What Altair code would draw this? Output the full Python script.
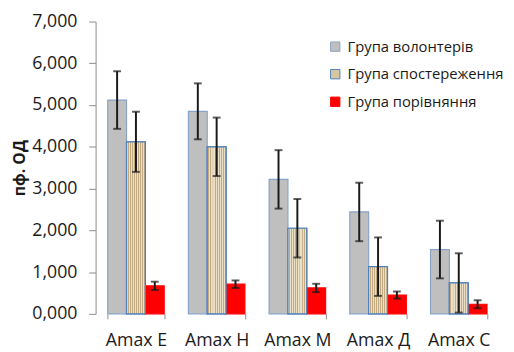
import altair as alt
import pandas as pd

categories = ["Amax E", "Amax H", "Amax M", "Amax Д", "Amax C"]
series = ["Група волонтерів", "Група спостереження", "Група порівняння"]
vol = [5.12, 4.85, 3.22, 2.44, 1.54]
vol_err = [0.69, 0.67, 0.70, 0.70, 0.69]
obs = [4.12, 4.00, 2.05, 1.13, 0.74]
obs_err = [0.72, 0.70, 0.70, 0.70, 0.71]
cmp_ = [0.67, 0.71, 0.62, 0.45, 0.23]
cmp_err = [0.10, 0.09, 0.10, 0.085, 0.095]

rows = []
for s, vals, errs in zip(series, [vol, obs, cmp_], [vol_err, obs_err, cmp_err]):
    for c, v, e in zip(categories, vals, errs):
        rows.append({"cat": c, "series": s, "value": v, "lo": v - e, "hi": v + e})
df = pd.DataFrame(rows)

FONT = "Open Sans"
TXT = "#1a1a1a"

x = alt.X("cat:N", sort=categories, title=None,
          scale=alt.Scale(paddingInner=0.3, paddingOuter=0.15),
          axis=alt.Axis(labelAngle=0, domain=False, tickBand="extent", tickSize=5,
                        tickColor="#8c8c8c", labelPadding=13, labelFontSize=18,
                        labelColor=TXT, labelFont=FONT))
xo = alt.XOffset("series:N", sort=series, scale=alt.Scale(domain=series))
yscale = alt.Scale(domain=[0, 7], nice=False)

leg = dict(orient="none", legendX=236, legendY=18, symbolType="square", symbolSize=90,
           rowPadding=12, labelFontSize=15, labelFont=FONT, labelColor=TXT,
           labelOffset=5, symbolStrokeWidth=1, labelLimit=0)

bars = alt.Chart(df).mark_bar(strokeWidth=1.2).encode(
    x=x, xOffset=xo,
    y=alt.Y("value:Q", scale=yscale, title="пф. ОД",
            axis=alt.Axis(values=[0, 1, 2, 3, 4, 5, 6, 7], grid=False,
                          labelExpr="replace(format(datum.value, '.3f'), '.', ',')",
                          tickSize=7, tickColor="#8c8c8c", domainColor="#8c8c8c",
                          labelPadding=12, labelFontSize=18, labelColor=TXT,
                          labelFont=FONT, titleFont=FONT, titleFontSize=16,
                          titleFontWeight="bold", titleColor=TXT, titlePadding=4)),
    color=alt.Color("series:N", sort=series, title=None,
                    scale=alt.Scale(domain=series, range=["#bfbfbf", "#d6c7a2", "#ff0000"]),
                    legend=alt.Legend(**leg)),
    stroke=alt.Stroke("series:N", sort=series, title=None,
                      scale=alt.Scale(domain=series, range=["#8aa4c8", "#4f81bd", "#ff0000"]),
                      legend=alt.Legend(**leg)),
)

stops = []
n = 9
for i in range(n):
    a = i / n
    b = (i + 0.55) / n
    stops.append(alt.GradientStop(offset=a, color="#ebe0c6"))
    stops.append(alt.GradientStop(offset=b - 0.005, color="#ebe0c6"))
    stops.append(alt.GradientStop(offset=b, color="#c2aa82"))
    stops.append(alt.GradientStop(offset=(i + 1) / n - 0.005, color="#c2aa82"))

texture = alt.Chart(df).transform_filter(
    alt.datum.series == series[1]
).mark_bar(
    fill=alt.LinearGradient(gradient="linear", x1=0, x2=1, y1=0, y2=0, stops=stops),
    stroke="#4f81bd", strokeWidth=1.2
).encode(x=x, xOffset=xo, y=alt.Y("value:Q", scale=yscale))

rules = alt.Chart(df).mark_rule(color=TXT, strokeWidth=2).encode(
    x=x, xOffset=xo, y=alt.Y("lo:Q", scale=yscale), y2="hi:Q")
cap_lo = alt.Chart(df).mark_tick(color=TXT, thickness=2, size=8, orient="horizontal").encode(
    x=x, xOffset=xo, y=alt.Y("lo:Q", scale=yscale))
cap_hi = alt.Chart(df).mark_tick(color=TXT, thickness=2, size=8, orient="horizontal").encode(
    x=x, xOffset=xo, y=alt.Y("hi:Q", scale=yscale))

chart = alt.layer(bars, texture, rules, cap_lo, cap_hi).properties(
    width=410, height=297,
    autosize=alt.AutoSizeParams(type="none"),
    padding={"left": 89, "top": 11, "right": 7, "bottom": 36},
).configure_view(stroke=None)

chart.save("out.html", embed_options={"renderer": "svg", "actions": False})
